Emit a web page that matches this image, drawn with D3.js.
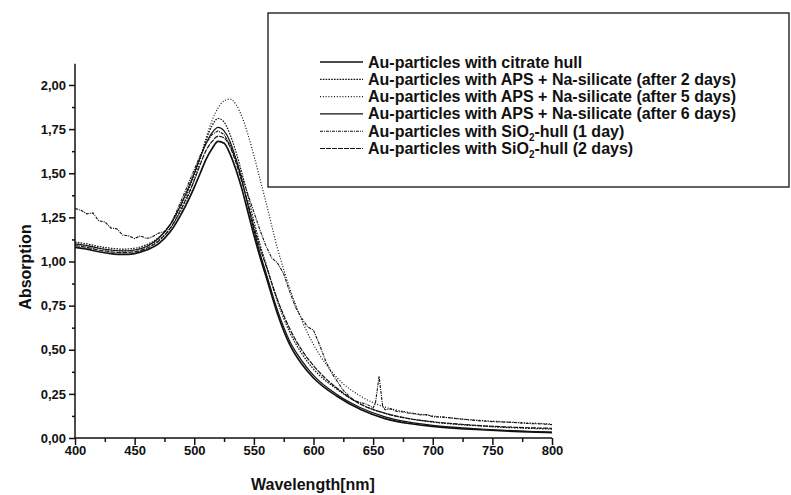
<!DOCTYPE html>
<html><head><meta charset="utf-8">
<script src="https://cdn.jsdelivr.net/npm/d3@7/dist/d3.min.js"></script>
<style>
body{margin:0;background:#fff;}
svg{display:block;}
text{font-family:"Liberation Sans",Arial,sans-serif;font-weight:bold;fill:#111;}
</style></head>
<body>
<svg id="c" width="791" height="495"></svg>
<script>
// ---- data ----
const wavelengths = [400,410,420,430,440,450,460,470,480,490,500,505,510,515,520,525,530,535,540,545,550,555,560,570,580,590,600,620,640,660,680,700,720,740,760,780,800];
const citrateHull = [1.08,1.07,1.055,1.045,1.04,1.045,1.065,1.10,1.17,1.28,1.42,1.50,1.58,1.64,1.68,1.67,1.61,1.52,1.41,1.28,1.15,1.03,0.92,0.70,0.53,0.42,0.34,0.235,0.16,0.11,0.082,0.066,0.055,0.047,0.040,0.035,0.030];
const aps2days = [1.11,1.10,1.085,1.075,1.07,1.075,1.095,1.135,1.21,1.33,1.49,1.59,1.69,1.77,1.81,1.79,1.72,1.62,1.50,1.37,1.23,1.10,0.99,0.77,0.60,0.48,0.39,0.275,0.19,0.14,0.11,0.09,0.077,0.068,0.06,0.055,0.05];
const aps5days = [1.10,1.09,1.075,1.065,1.06,1.065,1.085,1.12,1.19,1.30,1.46,1.58,1.70,1.80,1.87,1.91,1.92,1.89,1.82,1.72,1.60,1.47,1.34,1.07,0.85,0.67,0.53,0.34,0.235,0.175,0.145,0.125,0.11,0.10,0.092,0.086,0.08];
const aps6days = [1.10,1.09,1.075,1.065,1.06,1.065,1.085,1.13,1.21,1.34,1.50,1.59,1.67,1.73,1.76,1.74,1.68,1.58,1.46,1.32,1.18,1.05,0.94,0.72,0.55,0.44,0.355,0.245,0.17,0.12,0.09,0.072,0.06,0.051,0.044,0.038,0.034];
const sio2Hull2days = [1.09,1.08,1.065,1.055,1.05,1.055,1.075,1.115,1.19,1.31,1.46,1.55,1.63,1.68,1.71,1.70,1.65,1.56,1.45,1.33,1.20,1.08,0.98,0.78,0.62,0.50,0.41,0.28,0.19,0.14,0.11,0.092,0.08,0.07,0.063,0.058,0.055];
// noisy spectrum measured on its own grid
const wavelengthsNoisy = [400,405,410,415,420,425,430,435,440,445,450,455,460,465,470,475,480,485,490,495,500,505,510,515,520,525,530,535,540,545,550,555,560,565,570,575,580,585,590,595,600,605,610,615,620,625,630,635,640,645,650,652,655,658,660,665,670,675,680,685,690,695,700,710,720,730,740,750,760,770,780,790,800];
const sio2Hull1day = [1.30,1.29,1.27,1.275,1.23,1.225,1.19,1.185,1.15,1.145,1.13,1.145,1.13,1.14,1.16,1.17,1.21,1.28,1.36,1.44,1.52,1.60,1.67,1.72,1.74,1.72,1.66,1.58,1.48,1.38,1.28,1.18,1.09,1.02,0.99,0.93,0.83,0.74,0.68,0.63,0.61,0.53,0.44,0.37,0.32,0.27,0.235,0.21,0.20,0.19,0.17,0.20,0.35,0.18,0.16,0.165,0.15,0.148,0.14,0.137,0.13,0.133,0.12,0.118,0.11,0.103,0.097,0.093,0.09,0.087,0.082,0.08,0.076];

const seriesNames = [
  "Au-particles with citrate hull",
  "Au-particles with APS + Na-silicate (after 2 days)",
  "Au-particles with APS + Na-silicate (after 5 days)",
  "Au-particles with APS + Na-silicate (after 6 days)",
  "Au-particles with SiO|2|-hull (1 day)",
  "Au-particles with SiO|2|-hull (2 days)"
];
const xTickValues = [400,450,500,550,600,650,700,750,800];
const yTickValues = [0,0.25,0.5,0.75,1.0,1.25,1.5,1.75,2.0];

// ---- build ----
const series = [
  {name:seriesNames[0], x:wavelengths, y:citrateHull, dash:null, w:1.7, curve:d3.curveMonotoneX},
  {name:seriesNames[1], x:wavelengths, y:aps2days, dash:"1.6,1.2", w:1.2, curve:d3.curveMonotoneX},
  {name:seriesNames[2], x:wavelengths, y:aps5days, dash:"1,1.8", w:1.2, curve:d3.curveMonotoneX},
  {name:seriesNames[3], x:wavelengths, y:aps6days, dash:null, w:1.2, curve:d3.curveMonotoneX},
  {name:seriesNames[4], x:wavelengthsNoisy, y:sio2Hull1day, dash:"3,1,1,1", w:1.1, curve:d3.curveLinear},
  {name:seriesNames[5], x:wavelengths, y:sio2Hull2days, dash:"5,1", w:1.2, curve:d3.curveMonotoneX}
];

const svg = d3.select("#c");
const x = d3.scaleLinear().domain([400,800]).range([75,552]);
const y = d3.scaleLinear().domain([0,2.12]).range([438,63.8]);
const loc = d3.formatLocale({decimal:",",thousands:".",grouping:[3],currency:["",""]});
const fy = loc.format(".2f");

// curves
const g = svg.append("g");
series.forEach(s=>{
  const pts = s.x.map((v,i)=>[v,s.y[i]]);
  g.append("path").datum(pts)
    .attr("fill","none").attr("stroke","#111")
    .attr("stroke-width",s.w)
    .attr("stroke-dasharray",s.dash)
    .attr("d",d3.line().x(d=>x(d[0])).y(d=>y(d[1])).curve(s.curve));
});

// axes
const xMinor = d3.range(425,800,50);
const yMinor = d3.range(0.125,2.12,0.25);
const gx = svg.append("g").attr("transform",`translate(0,${y(0)})`);
gx.call(d3.axisBottom(x).tickValues(xTickValues).tickSize(7).tickPadding(1).tickFormat(d3.format("d")));
gx.append("g").call(d3.axisBottom(x).tickValues(xMinor).tickSize(4).tickFormat(""))
  .select(".domain").remove();
gx.selectAll("text").attr("font-size",13).attr("font-family","Liberation Sans, Arial").attr("font-weight","bold").attr("fill","#111");
gx.selectAll("line,path").attr("stroke","#111").attr("stroke-width",1.5);

const gy = svg.append("g").attr("transform",`translate(${x(400)},0)`);
gy.call(d3.axisLeft(y).tickValues(yTickValues).tickSize(6).tickPadding(3).tickFormat(fy));
gy.append("g").call(d3.axisLeft(y).tickValues(yMinor).tickSize(3).tickFormat(""))
  .select(".domain").remove();
gy.selectAll("text").attr("font-size",13).attr("font-family","Liberation Sans, Arial").attr("font-weight","bold").attr("fill","#111");
gy.selectAll("line,path").attr("stroke","#111").attr("stroke-width",1.5);
gy.select(".domain").attr("d",`M0,${y(2.12)}V${y(0)}`);
gx.select(".domain").attr("d",`M${x(400)},0H${x(800)}`);

// axis titles
svg.append("text").attr("x",313).attr("y",490).attr("text-anchor","middle")
  .attr("font-size",16).text("Wavelength[nm]");
svg.append("text").attr("transform","translate(31,267) rotate(-90)").attr("text-anchor","middle")
  .attr("font-size",16).text("Absorption");

// legend
const lg = svg.append("g");
lg.append("rect").attr("x",268).attr("y",13).attr("width",521).attr("height",174)
  .attr("fill","#fff").attr("stroke","#111").attr("stroke-width",1.3);
series.forEach((s,i)=>{
  const cy = 62 + i*17.3;
  lg.append("line").attr("x1",320).attr("x2",363).attr("y1",cy).attr("y2",cy)
    .attr("stroke","#111").attr("stroke-width",s.w).attr("stroke-dasharray",s.dash);
  const t = lg.append("text").attr("x",368).attr("y",cy+5.5).attr("font-size",16);
  const parts = s.name.split("|");
  if(parts.length===1){ t.text(parts[0]); }
  else {
    t.append("tspan").text(parts[0]);
    t.append("tspan").attr("font-size",10).attr("dy",4).text(parts[1]);
    t.append("tspan").attr("dy",-4).text(parts[2]);
  }
});
</script>
</body></html>
